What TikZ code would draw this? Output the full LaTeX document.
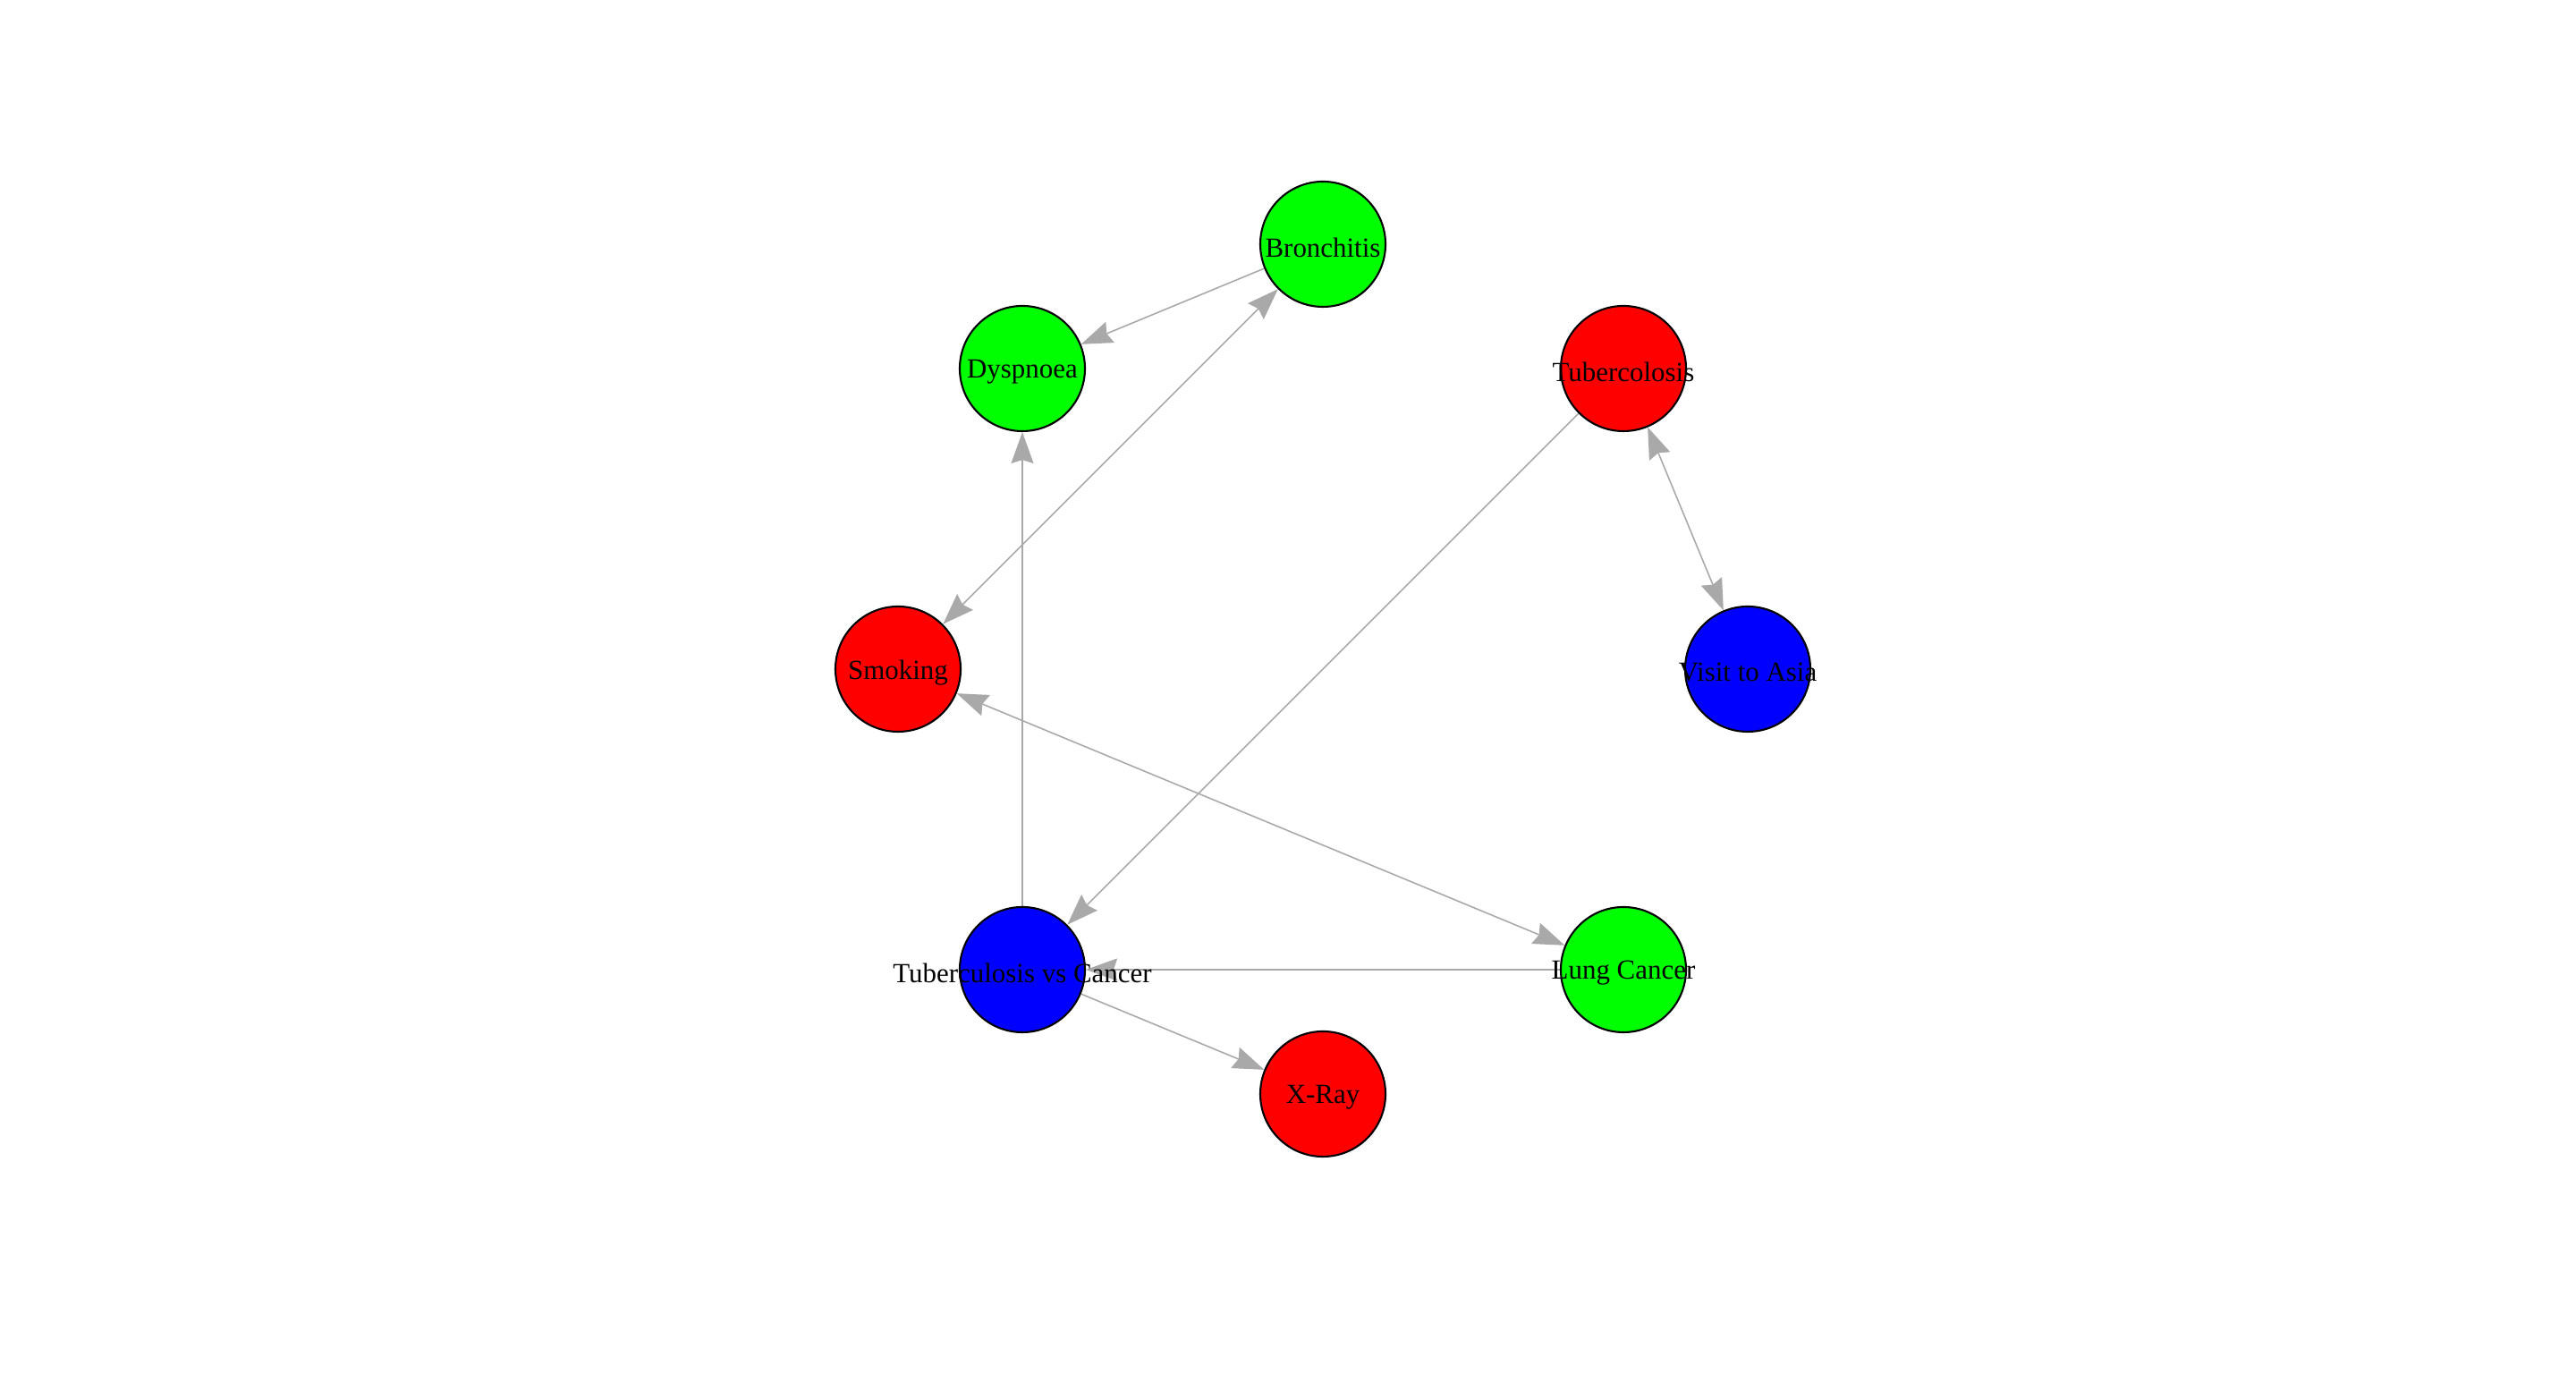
\documentclass[tikz,border=0pt]{standalone}
\usepackage{fontspec}
\setmainfont{Liberation Serif}
\usepackage{xcolor}
\definecolor{vgreen}{HTML}{00FF00}
\definecolor{vred}{HTML}{FF0000}
\definecolor{vblue}{HTML}{0000FF}
\definecolor{edgegray}{HTML}{A9A9A9}
\usetikzlibrary{arrows.meta,backgrounds}
\tikzset{
    -{Stealth[length=0.35cm,width=0.25cm,inset=0.04cm]},
    state/.style = {circle, draw=black, line width=0.6pt, minimum size=1.4cm, inner sep=0pt,
        label={[font=\fontsize{8.8pt}{10pt}\selectfont, yshift=-0.04cm]center:#1}},
    link/.style = {edgegray, line width=0.45pt},
    bidirected/.style = {{Stealth[length=0.35cm,width=0.25cm,inset=0.04cm]}-{Stealth[length=0.35cm,width=0.25cm,inset=0.04cm]}}
}
\begin{document}
\begin{tikzpicture}
    \useasboundingbox (0,0) rectangle (28.8,15.36);
    \node[state=Visit to Asia, fill=vblue] (asia) at (19.54,7.88) {};
    \node[state=Tubercolosis, fill=vred] (tub) at (18.15,11.24) {};
    \node[state=Bronchitis, fill=vgreen] (bron) at (14.79,12.63) {};
    \node[state=Dyspnoea, fill=vgreen] (dysp) at (11.43,11.24) {};
    \node[state=Smoking, fill=vred] (smok) at (10.04,7.88) {};
    \node[state=Tuberculosis vs Cancer, fill=vblue] (tvc) at (11.43,4.52) {};
    \node[state=X-Ray, fill=vred] (xray) at (14.79,3.13) {};
    \node[state=Lung Cancer, fill=vgreen] (lung) at (18.15,4.52) {};

    \begin{scope}[on background layer]
      \path[link] (bron) edge (dysp);
      \path[link] (smok) edge[bidirected] (bron);
      \path[link] (tvc) edge (dysp);
      \path[link] (tub) edge (tvc);
      \path[link] (tub) edge[bidirected] (asia);
      \path[link] (smok) edge[bidirected] (lung);
      \path[link] (lung) edge (tvc);
      \path[link] (tvc) edge (xray);
    \end{scope}
\end{tikzpicture}
\end{document}
